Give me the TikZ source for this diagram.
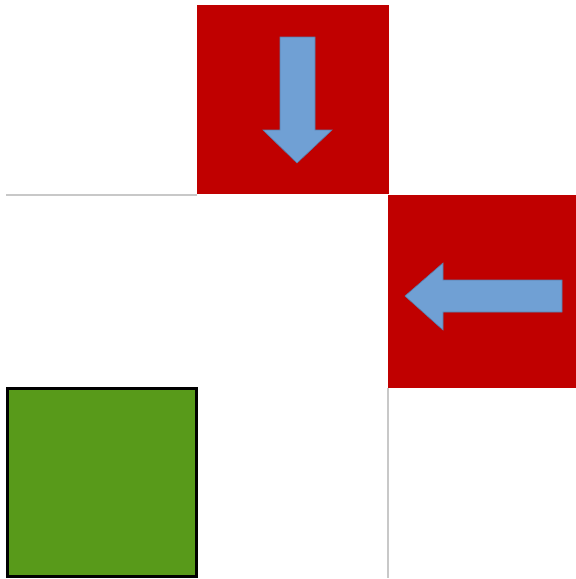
\documentclass[tikz,border=0pt]{standalone}
\usepackage{tikz}

\definecolor{cellred}{RGB}{192,0,0}
\definecolor{arrowblue}{RGB}{112,160,212}
\definecolor{arrowedge}{RGB}{90,125,170}
\definecolor{goalgreen}{RGB}{88,154,26}
\definecolor{gridgrey}{RGB}{200,200,200}

\begin{document}
\begin{tikzpicture}[x=1pt, y=-1pt, redcell/.style={fill=cellred}, goalcell/.style={draw=black, fill=goalgreen, line width=3pt}, bluearrow/.style={fill=arrowblue, draw=arrowedge, line width=0.6pt}, gridline/.style={draw=gridgrey, line width=1.3pt}]
\useasboundingbox (0,0) rectangle (576,579);
% red cells
\fill[redcell] (197,5) rectangle (389,194);
\fill[redcell] (388,195) rectangle (576,388);
% grid lines
\draw[gridline] (6,195) -- (197,195);
\draw[gridline] (388,388) -- (388,578);
% goal cell
\draw[goalcell] (7.5,388.5) rectangle (196.5,576.5);
% arrows
\draw[bluearrow] (280,37) -- (315,37) -- (315,130) -- (332,130) -- (297,163) -- (263,130) -- (280,130) -- cycle;
\draw[bluearrow] (562,280) -- (562,312) -- (443,312) -- (443,330) -- (405,296) -- (443,263) -- (443,280) -- cycle;
\end{tikzpicture}
\end{document}
